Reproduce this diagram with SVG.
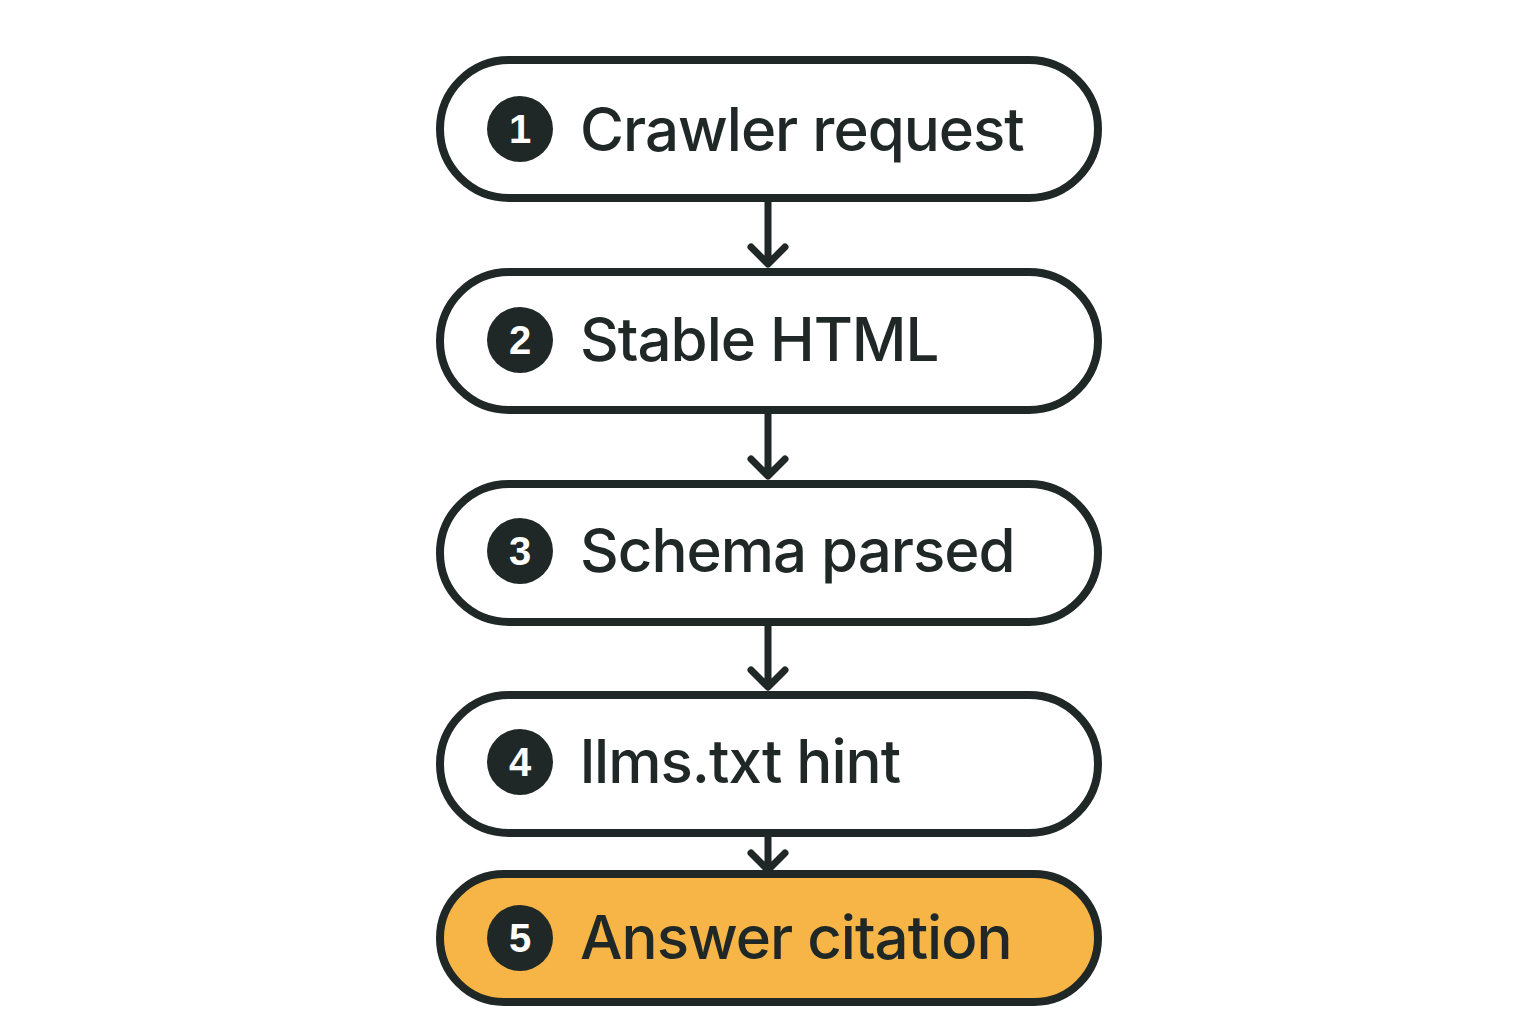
<svg xmlns="http://www.w3.org/2000/svg" width="1536" height="1024" viewBox="0 0 1536 1024">
<style>
.pill{fill:#fff;stroke:#1f2826;stroke-width:8}
.hl{fill:#f8b547}
.num{fill:#1f2826}
.nt{font-family:"Liberation Sans",Arial,sans-serif;font-weight:bold;font-size:40px;fill:#fff;text-anchor:middle}
.lbl{font-family:Inter,"Liberation Sans",sans-serif;font-weight:500;font-size:60px;fill:#1f2826;letter-spacing:-1px}
.con{stroke:#1f2826;stroke-width:7;fill:none;stroke-linecap:round;stroke-linejoin:round}
</style>
<rect width="1536" height="1024" fill="#fff"/>
<g id="connectors">
<path class="con" d="M768 201V263M751 247L768 264L785 247"/>
<path class="con" d="M768 413V475M751 459L768 476L785 459"/>
<path class="con" d="M768 625V686M751 670L768 687L785 670"/>
<path class="con" d="M768 836V866M751 853L768 870L785 853"/>
</g>
<g id="n1"><rect class="pill" x="440" y="60" width="658" height="138" rx="69"/><circle class="num" cx="520" cy="129" r="33"/><text class="nt" x="520" y="143">1</text><text class="lbl" x="580" y="151">Crawler request</text></g>
<g id="n2"><rect class="pill" x="440" y="272" width="658" height="138" rx="69"/><circle class="num" cx="520" cy="340" r="33"/><text class="nt" x="520" y="354">2</text><text class="lbl" x="580" y="361">Stable HTML</text></g>
<g id="n3"><rect class="pill" x="440" y="484" width="658" height="138" rx="69"/><circle class="num" cx="520" cy="551" r="33"/><text class="nt" x="520" y="565">3</text><text class="lbl" x="580" y="572">Schema parsed</text></g>
<g id="n4"><rect class="pill" x="440" y="695" width="658" height="138" rx="69"/><circle class="num" cx="520" cy="762" r="33"/><text class="nt" x="520" y="776">4</text><text class="lbl" x="580" y="783">llms.txt hint</text></g>
<g id="n5"><rect class="pill hl" x="440" y="874" width="658" height="128" rx="64"/><circle class="num" cx="520" cy="938" r="33"/><text class="nt" x="520" y="952">5</text><text class="lbl" x="580" y="959">Answer citation</text></g>
</svg>
